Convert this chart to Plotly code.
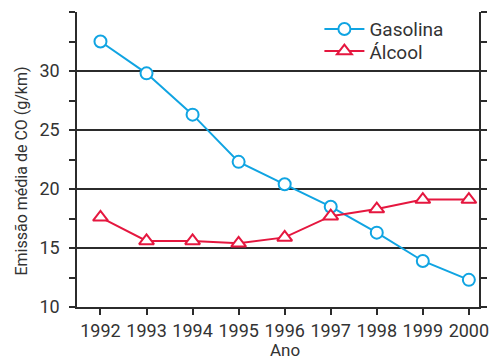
import plotly.graph_objects as go

# Average CO emission per vehicle (g/km), by model year
anos = [1992, 1993, 1994, 1995, 1996, 1997, 1998, 1999, 2000]
gasolina = [32.5, 29.8, 26.3, 22.3, 20.4, 18.5, 16.3, 13.9, 12.3]
alcool = [17.6, 15.6, 15.6, 15.4, 15.9, 17.7, 18.3, 19.1, 19.1]

y_ticks = [10, 15, 20, 25, 30]
y_grid = [15, 20, 25, 30]

titulo_x = "Ano"
titulo_y = "Emissão média de CO (g/km)"

AZUL = "#10a4e2"
VERMELHO = "#e5173f"
EIXO = "#2b2b2b"
TEXTO = "#333333"
FONTE = "Roboto"

fig = go.Figure()

# invisible trace bound to the grid axis so it is laid out beneath the data
fig.add_trace(go.Scatter(x=[anos[0]], y=[y_grid[0]], yaxis="y2",
                         mode="markers", marker=dict(opacity=0),
                         showlegend=False, hoverinfo="skip"))

fig.add_trace(go.Scatter(
    x=anos, y=gasolina, name="Gasolina", mode="lines+markers",
    line=dict(color=AZUL, width=2),
    marker=dict(symbol="circle", size=12, color="white",
                line=dict(color=AZUL, width=2)),
    legend="legend",
))
fig.add_trace(go.Scatter(
    x=anos, y=alcool, name="Álcool", mode="lines+markers",
    line=dict(color=VERMELHO, width=2),
    marker=dict(symbol="triangle-up", size=13, color="white",
                line=dict(color=VERMELHO, width=2)),
    legend="legend2",
))

legenda = dict(
    xanchor="left", yanchor="middle",
    bgcolor="rgba(0,0,0,0)", borderwidth=0,
    font=dict(family=FONTE, size=19, color=TEXTO),
    itemwidth=40,
)

fig.update_layout(
    width=489, height=361,
    margin=dict(l=77, r=10, t=12, b=54, autoexpand=False),
    paper_bgcolor="white", plot_bgcolor="white",
    font=dict(family=FONTE, size=18, color=TEXTO),
    showlegend=True,
    legend=dict(legenda, x=0.603, y=0.942),
    legend2=dict(legenda, x=0.603, y=0.867),
    xaxis=dict(
        range=[1991.49, 2000.22], automargin=False,
        tickmode="array", tickvals=anos, ticktext=[str(a) for a in anos],
        ticks="outside", ticklen=6, tickwidth=1.5, tickcolor=EIXO,
        showline=True, linecolor=EIXO, linewidth=1.5,
        showgrid=False, zeroline=False, mirror=False,
        ticklabelstandoff=1, ticklabeloverflow="allow",
    ),
    yaxis=dict(
        range=[10, 35], automargin=False,
        tickmode="array", tickvals=y_ticks,
        ticks="outside", ticklen=6, tickwidth=1.5, tickcolor=EIXO,
        minor=dict(dtick=2.5, tick0=10, ticks="outside", ticklen=6,
                   tickwidth=1.5, tickcolor=EIXO, showgrid=False),
        showline=True, linecolor=EIXO, linewidth=1.5, mirror="ticks",
        showgrid=False, zeroline=False,
        ticklabelstandoff=6, ticklabeloverflow="allow",
    ),
    yaxis2=dict(
        overlaying="y", matches="y", side="left", automargin=False,
        tickmode="array", tickvals=y_grid,
        showgrid=True, gridcolor=EIXO, gridwidth=1.5,
        showticklabels=False, ticks="", showline=False, zeroline=False,
    ),
)

# axis titles placed as paper-anchored annotations
fig.add_annotation(
    text=titulo_x, xref="paper", yref="paper", x=0.5, y=0,
    xanchor="center", yanchor="bottom", xshift=7, yshift=-54,
    borderpad=0, showarrow=False,
    font=dict(family=FONTE, size=17, color=TEXTO),
)
fig.add_annotation(
    text=titulo_y, xref="paper", yref="paper", x=0, y=0.5,
    xanchor="center", yanchor="middle", xshift=-56, yshift=-12,
    textangle=-90, showarrow=False,
    font=dict(family=FONTE, size=16, color=TEXTO),
)

fig.write_html("out.html")
